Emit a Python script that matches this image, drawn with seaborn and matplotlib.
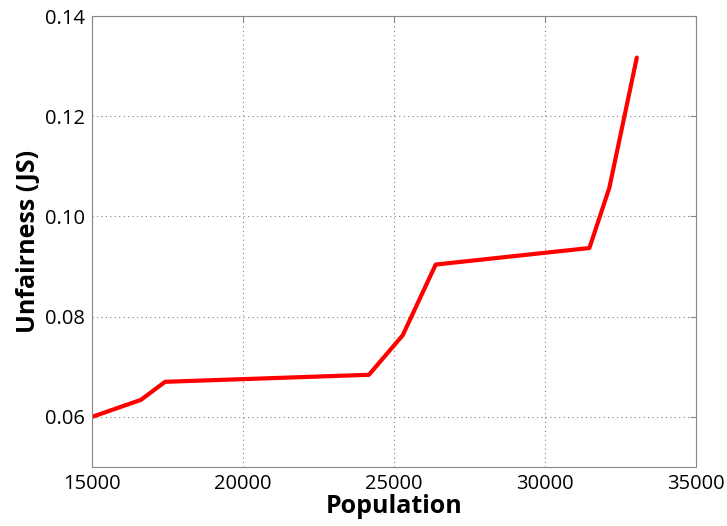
import matplotlib
matplotlib.use("Agg")
import matplotlib.pyplot as plt
import seaborn as sns
import pandas as pd

population = [15000, 16620, 17420, 24170, 25290, 26380, 31470, 32130, 33040]
unfairness = [0.0600, 0.0634, 0.0670, 0.0684, 0.0763, 0.0904, 0.0937, 0.1057, 0.1317]
xticks = [15000, 20000, 25000, 30000, 35000]
yticks = [0.06, 0.08, 0.10, 0.12, 0.14]

sns.set_style("white")
plt.rcParams['font.family'] = ['Open Sans', 'DejaVu Sans']
plt.rcParams['text.color'] = 'black'
plt.rcParams['axes.labelcolor'] = 'black'
plt.rcParams['xtick.color'] = 'black'
plt.rcParams['ytick.color'] = 'black'

df = pd.DataFrame({"Population": population, "Unfairness": unfairness})
fig = plt.figure(figsize=(7.27, 5.26), dpi=100)
ax = fig.add_axes([92/727, 1-467/526, (696-92)/727, (467-16)/526])
sns.lineplot(data=df, x="Population", y="Unfairness", color="red", linewidth=3, ax=ax)
ax.set_xlim(15000, 35000)
ax.set_ylim(0.05, 0.14)
ax.set_xticks(xticks)
ax.set_yticks(yticks)
ax.set_xticklabels([str(t) for t in xticks], fontsize=14.5)
ax.set_yticklabels([f"{t:.2f}" for t in yticks], fontsize=14.5)
ax.grid(True, linestyle=(0, (1, 3)), color="gray", linewidth=0.8)
ax.tick_params(direction="in", length=4, top=True, right=True, pad=5, colors="black")
ax.tick_params(axis="both", color="#888888")
for s in ax.spines.values():
    s.set_color("#888888")
    s.set_linewidth(0.8)
ax.set_xlabel("Population", fontsize=18, fontweight="bold", labelpad=0)
ax.set_ylabel("Unfairness (JS)", fontsize=18, fontweight="bold", labelpad=3)
fig.savefig("out.png", dpi=100)
